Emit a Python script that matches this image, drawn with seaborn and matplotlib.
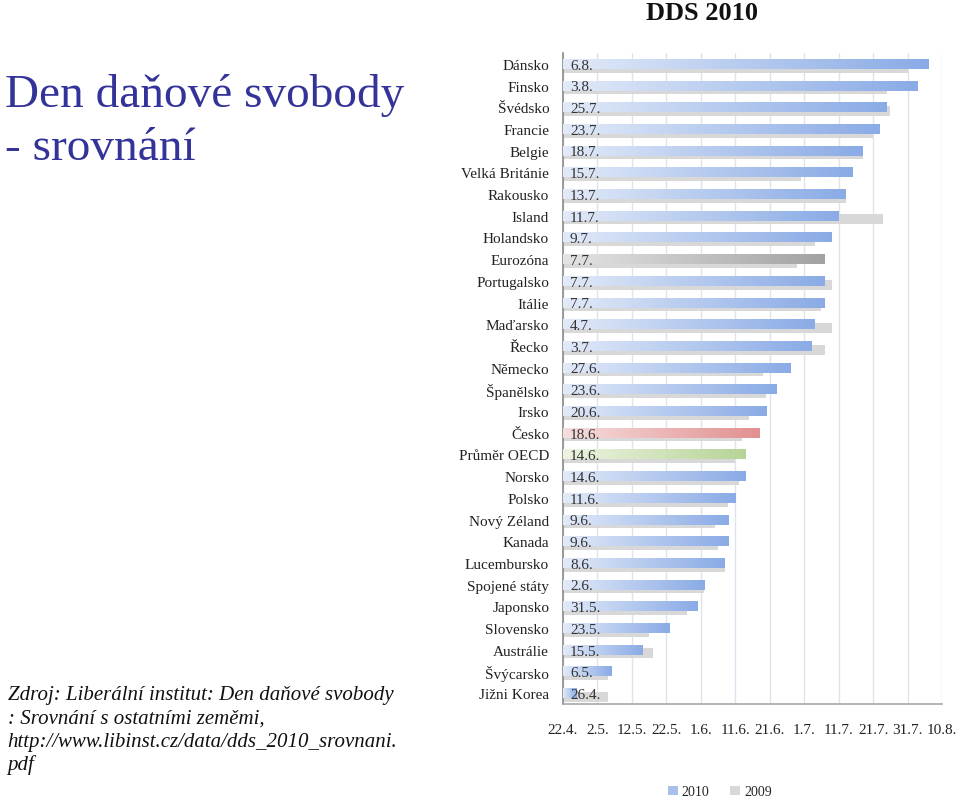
import numpy as np
import pandas as pd
import matplotlib
matplotlib.use("Agg")
import matplotlib.pyplot as plt
import seaborn as sns
from datetime import date
from matplotlib.colors import LinearSegmentedColormap
from matplotlib.patches import Patch

countries = ["Dánsko", "Finsko", "Švédsko", "Francie", "Belgie", "Velká Británie",
             "Rakousko", "Island", "Holandsko", "Eurozóna", "Portugalsko", "Itálie",
             "Maďarsko", "Řecko", "Německo", "Španělsko", "Irsko", "Česko",
             "Průměr OECD", "Norsko", "Polsko", "Nový Zéland", "Kanada",
             "Lucembursko", "Spojené státy", "Japonsko", "Slovensko", "Austrálie",
             "Švýcarsko", "Jižni Korea"]
dds_2010 = ["6.8.", "3.8.", "25.7.", "23.7.", "18.7.", "15.7.", "13.7.", "11.7.",
            "9.7.", "7.7.", "7.7.", "7.7.", "4.7.", "3.7.", "27.6.", "23.6.",
            "20.6.", "18.6.", "14.6.", "14.6.", "11.6.", "9.6.", "9.6.", "8.6.",
            "2.6.", "31.5.", "23.5.", "15.5.", "6.5.", "26.4."]
dds_2009 = ["31.7.", "25.7.", "26.7.", "21.7.", "18.7.", "30.6.", "13.7.", "24.7.",
            "4.7.", "29.6.", "9.7.", "6.7.", "9.7.", "7.7.", "19.6.", "20.6.",
            "15.6.", "13.6.", "11.6.", "12.6.", "9.6.", "5.6.", "6.6.", "8.6.",
            "2.6.", "28.5.", "17.5.", "18.5.", "5.5.", "5.5."]
tick_dates = ["22.4.", "2.5.", "12.5.", "22.5.", "1.6.", "11.6.", "21.6.",
              "1.7.", "11.7.", "21.7.", "31.7.", "10.8."]
series_names = ["2010", "2009"]


def to_ord(s):
    d, m = s.strip(".").split(".")
    return date(2010, int(m), int(d)).toordinal()


base = to_ord(tick_dates[0])
df = pd.DataFrame({
    "country": countries,
    "v2010": [to_ord(s) - base for s in dds_2010],
    "v2009": [to_ord(s) - base for s in dds_2009],
})
tick_pos = [to_ord(s) - base for s in tick_dates]

sns.set_theme(style="white")
plt.rcParams["font.family"] = ["Liberation Serif", "DejaVu Serif"]

fig = plt.figure(figsize=(9.6, 8.04), dpi=100)
ax = fig.add_axes([0.5865, 0.1231, 0.3948, 0.8097])

# 2009 bars (grey, behind, shifted down slightly)
sns.barplot(data=df, y="country", x="v2009", color="#d8d8d8", width=0.46,
            orient="h", ax=ax, saturation=1, zorder=2)
n_grey = len(ax.patches)
for p in ax.patches[:n_grey]:
    p.set_y(p.get_y() + 0.17)
    p.set_edgecolor("none")

# 2010 bars
sns.barplot(data=df, y="country", x="v2010", color="#a9c0ea", width=0.46,
            orient="h", ax=ax, saturation=1, zorder=3)
blue_patches = ax.patches[n_grey:]

special = {
    "Eurozóna": ("#e4e4e4", "#a2a2a2"),
    "Česko": ("#f6dede", "#e29090"),
    "Průměr OECD": ("#edf4e2", "#b7d496"),
}
default_grad = ("#e2eaf8", "#8aabe6")
grad = np.linspace(0, 1, 256).reshape(1, -1)
for p, c in zip(blue_patches, countries):
    p.set_edgecolor("none")
    c0, c1 = special.get(c, default_grad)
    cmap = LinearSegmentedColormap.from_list("g", [c0, c1])
    x0, y0, w, h = p.get_x(), p.get_y(), p.get_width(), p.get_height()
    im = ax.imshow(grad, cmap=cmap, aspect="auto", extent=[x0, x0 + w, y0 + h, y0],
                   zorder=4, interpolation="bilinear")
    im.set_clip_path(p)

# date labels inside bars
for i, s in enumerate(dds_2010):
    ax.text(2.0, i + 0.06, s, va="center", ha="left", fontsize=11, color="#333333",
            zorder=6)

ax.set_xlim(0, tick_pos[-1])
ax.set_ylim(len(countries) - 0.5, -0.5)
ax.set_xticks(tick_pos)
ax.set_xticklabels(tick_dates)
ax.set_xlabel("")
ax.set_ylabel("")
ax.tick_params(axis="x", length=0, pad=14, labelsize=11, labelcolor="#222222")
ax.tick_params(axis="y", length=0, pad=10, labelsize=11, labelcolor="#222222")
ax.xaxis.grid(True, color="#dde4ee", linewidth=1.0, zorder=0)
ax.yaxis.grid(False)
ax.set_axisbelow(True)
for side in ["top", "right"]:
    ax.spines[side].set_visible(False)
ax.spines["left"].set_color("#8a8a8a")
ax.spines["left"].set_linewidth(1.2)
ax.spines["bottom"].set_color("#a8a8a8")
ax.spines["bottom"].set_linewidth(1.2)

fig.text(0.731, 0.983, "DDS 2010", ha="center", va="center", fontsize=19,
         fontweight="bold", color="#111111")

handles = [Patch(facecolor="#a9c0ea", edgecolor="none"),
           Patch(facecolor="#d8d8d8", edgecolor="none")]
fig.legend(handles, series_names, loc="center", bbox_to_anchor=(0.75, 0.014),
           ncol=2, frameon=False, fontsize=10, handlelength=0.7, handleheight=0.7,
           handletextpad=0.3, columnspacing=1.5)

fig.text(0.005, 1 - 107 / 804, "Den daňové svobody", ha="left", va="baseline",
         fontsize=34, color="#333399", fontfamily="Liberation Serif")
fig.text(0.005, 1 - 160 / 804, "- srovnání", ha="left", va="baseline",
         fontsize=34, color="#333399", fontfamily="Liberation Serif")

src_lines = ["Zdroj: Liberální institut: Den daňové svobody",
             ": Srovnání s ostatními zeměmi,",
             "http://www.libinst.cz/data/dds_2010_srovnani.",
             "pdf"]
for k, line in enumerate(src_lines):
    fig.text(0.008, 1 - (700 + 23.5 * k) / 804, line, ha="left", va="baseline",
             fontsize=15, style="italic", color="#111111",
             fontfamily="Liberation Serif")

fig.savefig("out.png", dpi=100)
